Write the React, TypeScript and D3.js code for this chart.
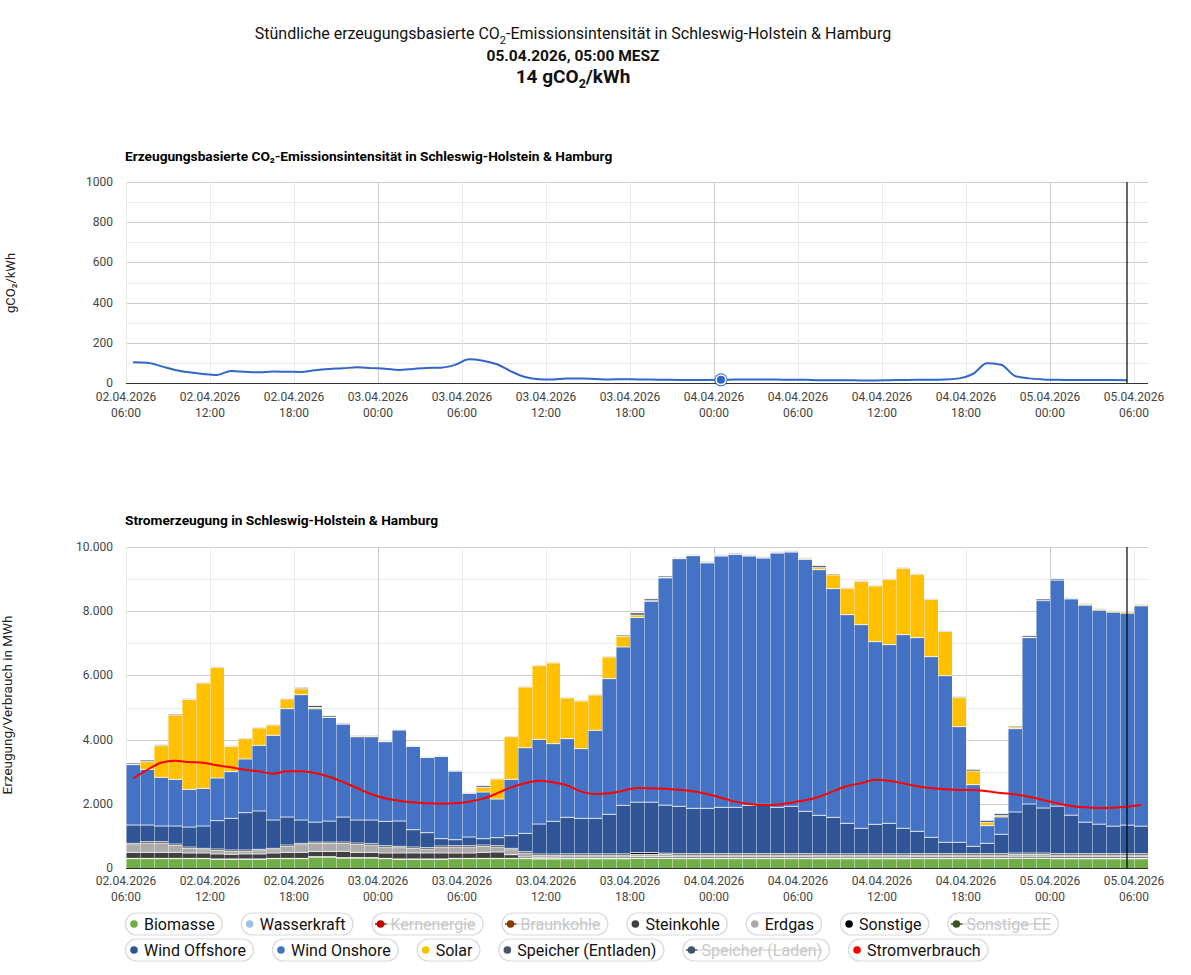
import * as d3 from 'd3';
import { useMemo } from 'react';

// erste Stunde der Darstellung: 02.04.2026 06:00
const START = new Date(2026, 3, 2, 6);
const HOURS = 73;
const CURRENT_HOUR = 71; // 05.04.2026 05:00
const HOVER_HOUR = 42; // markierter Punkt in der oberen Grafik

// gCO2/kWh je Stunde
const co2Intensity = [
  103, 101, 84, 65, 53, 45, 40, 60, 56, 53,
  57, 56, 55, 64, 70, 73, 78, 74, 71, 65,
  70, 75, 76, 90, 118, 111, 93, 58, 30, 19,
  18, 22, 22, 20, 18, 19, 18, 17, 16, 15,
  15, 15, 16, 17, 18, 18, 17, 16, 16, 14,
  14, 14, 13, 13, 14, 15, 16, 16, 17, 23,
  45, 98, 91, 35, 23, 18, 16, 15, 15, 15,
  15, 14,
];

// Erzeugung in MWh je Stunde
const biomasse = [
  290, 290, 290, 290, 290, 290, 270, 270, 270, 270,
  290, 290, 290, 340, 340, 310, 310, 310, 290, 270,
  270, 270, 270, 290, 290, 290, 290, 290, 290, 280,
  280, 285, 285, 285, 285, 285, 300, 300, 300, 290,
  290, 290, 290, 290, 290, 290, 290, 290, 290, 285,
  285, 285, 285, 285, 285, 285, 290, 290, 290, 290,
  290, 290, 290, 300, 300, 300, 285, 285, 285, 285,
  285, 285, 285,
];
const wasserkraft = [
  10, 10, 10, 10, 10, 10, 10, 10, 10, 10,
  10, 10, 10, 10, 10, 10, 10, 10, 10, 10,
  10, 10, 10, 10, 10, 10, 10, 10, 10, 10,
  10, 10, 10, 10, 10, 10, 10, 10, 10, 10,
  10, 10, 10, 10, 10, 10, 10, 10, 10, 10,
  10, 10, 10, 10, 10, 10, 10, 10, 10, 10,
  10, 10, 10, 10, 10, 10, 10, 10, 10, 10,
  10, 10, 10,
];
const steinkohle = [
  187, 187, 187, 187, 166, 166, 156, 146, 156, 156,
  166, 187, 187, 166, 166, 198, 167, 167, 166, 187,
  187, 187, 187, 166, 166, 187, 197, 114, 42, 42,
  45, 45, 45, 45, 45, 45, 50, 50, 50, 45,
  45, 45, 45, 45, 45, 45, 45, 45, 45, 45,
  45, 45, 45, 45, 45, 45, 45, 45, 45, 45,
  45, 45, 45, 55, 55, 55, 50, 50, 50, 50,
  50, 50, 50,
];
const erdgas = [
  239, 291, 291, 218, 145, 104, 114, 93, 83, 104,
  104, 187, 239, 249, 249, 249, 249, 228, 187, 166,
  145, 125, 177, 187, 187, 187, 156, 156, 124, 62,
  60, 60, 60, 60, 60, 60, 60, 60, 60, 60,
  60, 60, 60, 60, 60, 60, 60, 60, 60, 60,
  60, 60, 60, 60, 60, 60, 60, 60, 60, 60,
  60, 60, 60, 60, 60, 60, 60, 60, 60, 60,
  60, 60, 60,
];
const sonstige = [
  41, 41, 41, 41, 41, 41, 41, 41, 41, 41,
  41, 41, 41, 41, 41, 41, 41, 41, 41, 41,
  41, 41, 41, 41, 41, 41, 41, 41, 41, 41,
  40, 40, 40, 40, 40, 40, 60, 60, 40, 40,
  40, 40, 40, 40, 40, 40, 40, 40, 40, 40,
  40, 40, 40, 40, 40, 40, 40, 40, 40, 40,
  40, 40, 40, 40, 40, 40, 40, 40, 40, 40,
  40, 40, 40,
];
const windOffshore = [
  571, 519, 488, 561, 623, 696, 883, 986, 1163, 1194,
  883, 872, 727, 622, 654, 778, 716, 737, 758, 789,
  540, 467, 228, 187, 270, 197, 249, 395, 571, 934,
  1019, 1138, 1107, 1107, 1232, 1512, 1570, 1570, 1497, 1476,
  1413, 1413, 1445, 1445, 1507, 1538, 1445, 1476, 1320, 1200,
  1138, 951, 796, 920, 951, 796, 697, 510, 355, 355,
  230, 324, 604, 1279, 1528, 1403, 1481, 1200, 982, 920,
  858, 889, 858,
];
const windOnshore = [
  1880, 1735, 1517, 1454, 1173, 1174, 1329, 1454, 1672, 2046,
  2638, 3376, 3905, 3532, 3230, 2898, 2596, 2596, 2482, 2835,
  2597, 2347, 2565, 2139, 1361, 1454, 1205, 1755, 2669, 2638,
  2420, 2452, 2171, 2742, 4227, 4933, 5754, 6263, 7083, 7716,
  7872, 7644, 7830, 7882, 7768, 7675, 7923, 7924, 7851, 7654,
  7124, 6501, 6345, 5691, 5567, 6033, 6034, 5629, 5192, 3603,
  1921, 550, 540, 2597, 5183, 6460, 7041, 6740, 6761, 6667,
  6667, 6605, 6864,
];
const solar = [
  15, 239, 986, 2004, 2804, 3281, 3448, 789, 634, 540,
  322, 301, 187, 41, 10, 5, 30, 30, 10, 10,
  5, 5, 5, 5, 0, 145, 623, 1329, 1890, 2295,
  2513, 1266, 1485, 1101, 675, 332, 73, 10, 5, 5,
  5, 20, 5, 5, 5, 5, 5, 5, 31, 62,
  426, 821, 1350, 1734, 2035, 2067, 1973, 1786, 1381, 904,
  426, 104, 42, 52, 10, 0, 0, 5, 30, 30,
  30, 40, 30,
];
const speicherEntladen = [
  40, 51, 31, 30, 20, 20, 20, 20, 20, 20,
  20, 20, 41, 60, 50, 30, 20, 20, 20, 20,
  20, 20, 20, 20, 20, 53, 20, 20, 20, 20,
  20, 20, 20, 20, 20, 40, 72, 62, 50, 30,
  30, 30, 30, 30, 30, 30, 30, 30, 20, 63,
  30, 20, 20, 20, 20, 20, 20, 20, 20, 30,
  52, 62, 62, 31, 51, 52, 41, 31, 20, 20,
  20, 20, 20,
];
// Stromverbrauch in MWh je Stunde
const stromverbrauch = [
  2793, 3053, 3281, 3344, 3302, 3281, 3198, 3136, 3063, 3011,
  2939, 3011, 3011, 2960, 2845, 2679, 2492, 2305, 2170, 2098,
  2046, 2015, 2004, 2015, 2067, 2160, 2326, 2513, 2638, 2721,
  2669, 2576, 2388, 2305, 2326, 2409, 2492, 2482, 2471, 2440,
  2388, 2305, 2191, 2067, 1994, 1963, 1973, 2035, 2108, 2222,
  2388, 2555, 2638, 2752, 2721, 2638, 2544, 2492, 2451, 2430,
  2430, 2388, 2336, 2295, 2222, 2118, 2015, 1931, 1890, 1869,
  1879, 1910, 1963,
];

const stackKeys = [
  'Biomasse', 'Wasserkraft', 'Steinkohle', 'Erdgas', 'Sonstige',
  'Wind Offshore', 'Wind Onshore', 'Solar', 'Speicher (Entladen)',
];
const stackValues = [
  biomasse, wasserkraft, steinkohle, erdgas, sonstige,
  windOffshore, windOnshore, solar, speicherEntladen,
];

const legendRow1 = ['Biomasse', 'Wasserkraft', 'Kernenergie', 'Braunkohle', 'Steinkohle', 'Erdgas', 'Sonstige', 'Sonstige EE'];
const legendRow2 = ['Wind Offshore', 'Wind Onshore', 'Solar', 'Speicher (Entladen)', 'Speicher (Laden)', 'Stromverbrauch'];
const hiddenSeries = ['Kernenergie', 'Braunkohle', 'Sonstige EE', 'Speicher (Laden)'];

const colors: Record<string, string> = {
  Biomasse: '#70ad47',
  Wasserkraft: '#9dc3e6',
  Kernenergie: '#c00000',
  Braunkohle: '#843c0c',
  Steinkohle: '#404040',
  Erdgas: '#aeaaaa',
  Sonstige: '#000000',
  'Sonstige EE': '#375623',
  'Wind Offshore': '#2f5597',
  'Wind Onshore': '#4472c4',
  Solar: '#ffc000',
  'Speicher (Entladen)': '#44546a',
  'Speicher (Laden)': '#44546a',
  Stromverbrauch: '#ff0000',
};

const FONT = 'Roboto, "Noto Sans", sans-serif';
const W = 1191;
const H = 975;
const LEFT = 126;
const RIGHT = 1148;
const TOP1 = 182;
const BOT1 = 383;
const TOP2 = 547;
const BOT2 = 868;

const de = d3.formatLocale({ decimal: ',', thousands: '.', grouping: [3], currency: ['', ' €'] });
const fmtThousands = de.format(',');
const fmtDate = d3.timeFormat('%d.%m.%Y');
const fmtTime = d3.timeFormat('%H:%M');

const hourDates = d3.range(HOURS).map((i) => d3.timeHour.offset(START, i));

function measure(text: string, font: string) {
  const ctx = document.createElement('canvas').getContext('2d');
  if (!ctx) return text.length * 8;
  ctx.font = font;
  return ctx.measureText(text).width;
}

function XAxis({ x, y0, labelY }: { x: d3.ScaleTime<number, number>; y0: number; labelY: number }) {
  const ticks = x.ticks(d3.timeHour.every(6)!);
  return (
    <g>
      {ticks.map((t, i) => (
        <text key={i} x={x(t)} y={labelY} textAnchor='middle' fontSize={12} fill='#444' fontFamily={FONT}>
          <tspan x={x(t)}>{fmtDate(t)}</tspan>
          <tspan x={x(t)} dy={16}>{fmtTime(t)}</tspan>
        </text>
      ))}
      <line x1={LEFT} x2={RIGHT} y1={y0} y2={y0} stroke='#333' strokeWidth={1} />
    </g>
  );
}

function VGrid({ x, top, bottom }: { x: d3.ScaleTime<number, number>; top: number; bottom: number }) {
  const ticks = x.ticks(d3.timeHour.every(6)!);
  return (
    <g>
      {ticks.map((t, i) => (
        <line
          key={i}
          x1={Math.round(x(t)) + 0.5}
          x2={Math.round(x(t)) + 0.5}
          y1={top}
          y2={bottom}
          stroke={t.getHours() === 0 ? '#cccccc' : '#ebebeb'}
        />
      ))}
    </g>
  );
}

function Legend() {
  const font = `16px Roboto`;
  const rows = [legendRow1, legendRow2];
  const rowY = [924, 950];
  return (
    <g fontFamily={FONT}>
      {rows.map((row, r) => {
        let cx = 125;
        return row.map((name) => {
          const tw = measure(name, font);
          const x0 = cx;
          const w = tw + 26;
          cx += w + 19;
          const cy = rowY[r];
          const hidden = hiddenSeries.includes(name);
          return (
            <g key={name}>
              <rect x={x0 + 0.5} y={cy - 11} width={w} height={22} rx={11} fill='#fff' stroke='#d9d9d9' strokeWidth={1.2} />
              <circle cx={x0 + 9} cy={cy} r={3.8} fill={colors[name]} />
              {hidden && <line x1={x0 + 3.5} x2={x0 + 15} y1={cy} y2={cy} stroke={colors[name]} strokeWidth={1.5} />}
              <text x={x0 + 19} y={cy + 5.5} fontSize={16} fill={hidden ? '#c8c8c8' : '#111'}>
                {name}
              </text>
              {hidden && <line x1={x0 + 15} x2={x0 + 19 + tw} y1={cy} y2={cy} stroke='#c8c8c8' strokeWidth={1.2} />}
            </g>
          );
        });
      })}
    </g>
  );
}

export default function App() {
  const x = useMemo(
    () => d3.scaleTime().domain([START, d3.timeHour.offset(START, HOURS)]).range([LEFT, RIGHT]),
    [],
  );
  const y1 = d3.scaleLinear().domain([0, 1000]).range([BOT1, TOP1]);
  const y2 = d3.scaleLinear().domain([0, 10000]).range([BOT2, TOP2]);

  const mid = (i: number) => x(d3.timeMinute.offset(hourDates[i], 30));

  const co2Line = d3
    .line<number>()
    .x((_, i) => mid(i))
    .y((d) => y1(d))
    .curve(d3.curveMonotoneX);

  const loadLine = d3
    .line<number>()
    .x((_, i) => mid(i))
    .y((d) => y2(d))
    .curve(d3.curveMonotoneX);

  const rows = hourDates.map((_, i) => {
    const r: Record<string, number> = {};
    stackKeys.forEach((k, j) => (r[k] = stackValues[j][i]));
    return r;
  });
  const stacked = d3.stack<Record<string, number>>().keys(stackKeys)(rows);

  const nowX = mid(CURRENT_HOUR);

  return (
    <svg width={W} height={H} style={{ position: 'absolute', left: 0, top: 0, background: '#fff' }} fontFamily={FONT}>
      {/* Kopf */}
      <text x={573} y={39} textAnchor='middle' fontSize={16} fill='#111'>
        Stündliche erzeugungsbasierte CO<tspan fontSize={11} dy={5}>2</tspan>
        <tspan dy={-5}>-Emissionsintensität in Schleswig-Holstein &amp; Hamburg</tspan>
      </text>
      <text x={573} y={61} textAnchor='middle' fontSize={15.5} fontWeight='bold' fill='#111'>
        05.04.2026, 05:00 MESZ
      </text>
      <text x={573} y={83} textAnchor='middle' fontSize={19} fontWeight='bold' fill='#111'>
        14 gCO<tspan fontSize={12.5} dy={5}>2</tspan>
        <tspan dy={-5}>/kWh</tspan>
      </text>

      {/* obere Grafik */}
      <text x={125} y={161} fontSize={13.7} fontWeight='bold' fill='#000'>
        Erzeugungsbasierte CO₂-Emissionsintensität in Schleswig-Holstein &amp; Hamburg
      </text>
      <text transform={`translate(15,283) rotate(-90)`} textAnchor='middle' fontSize={13} fill='#222'>
        gCO₂/kWh
      </text>
      {d3.range(0, 1001, 100).map((v) => (
        <line
          key={v}
          x1={LEFT}
          x2={RIGHT}
          y1={Math.round(y1(v)) + 0.5}
          y2={Math.round(y1(v)) + 0.5}
          stroke={v % 200 === 0 ? '#cccccc' : '#ebebeb'}
        />
      ))}
      <VGrid x={x} top={TOP1} bottom={BOT1} />
      {d3.range(0, 1001, 200).map((v) => (
        <text key={v} x={113} y={y1(v) + 4} textAnchor='end' fontSize={12} fill='#444'>
          {v}
        </text>
      ))}
      <XAxis x={x} y0={BOT1 + 0.5} labelY={401} />
      <path d={co2Line(co2Intensity) ?? ''} fill='none' stroke='#3366cc' strokeWidth={2} />
      <circle cx={mid(HOVER_HOUR)} cy={y1(co2Intensity[HOVER_HOUR])} r={6.5} fill='#3366cc' />
      <circle cx={mid(HOVER_HOUR)} cy={y1(co2Intensity[HOVER_HOUR])} r={4.8} fill='#3366cc' stroke='#fff' strokeWidth={1.5} />
      <line x1={nowX} x2={nowX} y1={TOP1} y2={BOT1} stroke='#000' strokeWidth={1.2} />

      {/* untere Grafik */}
      <text x={125} y={525} fontSize={13.7} fontWeight='bold' fill='#000'>
        Stromerzeugung in Schleswig-Holstein &amp; Hamburg
      </text>
      <text transform={`translate(12,705) rotate(-90)`} textAnchor='middle' fontSize={13.5} fill='#222'>
        Erzeugung/Verbrauch in MWh
      </text>
      {d3.range(0, 10001, 1000).map((v) => (
        <line
          key={v}
          x1={LEFT}
          x2={RIGHT}
          y1={Math.round(y2(v)) + 0.5}
          y2={Math.round(y2(v)) + 0.5}
          stroke={v % 2000 === 0 ? '#cccccc' : '#ebebeb'}
        />
      ))}
      <VGrid x={x} top={TOP2} bottom={BOT2} />
      {d3.range(0, 10001, 2000).map((v) => (
        <text key={v} x={113} y={y2(v) + 4} textAnchor='end' fontSize={12} fill='#444'>
          {fmtThousands(v)}
        </text>
      ))}
      <g>
        {stacked.map((layer) => (
          <g key={layer.key} fill={colors[layer.key]}>
            {layer.map((d, i) => {
              const x0 = x(hourDates[i]);
              const x1 = x(d3.timeHour.offset(hourDates[i], 1));
              const yTop = y2(d[1]);
              const yBot = y2(d[0]);
              return <rect key={i} x={x0} y={yTop} width={x1 - x0} height={Math.max(0, yBot - yTop)} />;
            })}
          </g>
        ))}
        {/* weiße Trennlinien */}
        {stacked.map((layer) =>
          layer.map((d, i) => {
            if (d[1] - d[0] <= 0) return null;
            const x0 = x(hourDates[i]);
            const x1 = x(d3.timeHour.offset(hourDates[i], 1));
            return (
              <line key={layer.key + i} x1={x0} x2={x1} y1={y2(d[1])} y2={y2(d[1])} stroke='#fff' strokeWidth={0.8} />
            );
          }),
        )}
        {hourDates.map((t, i) => {
          const top = stacked[stacked.length - 1][i][1];
          const xx = x(t) + 0.5;
          return <line key={i} x1={xx} x2={xx} y1={y2(top)} y2={BOT2} stroke='#fff' strokeOpacity={0.45} strokeWidth={1} />;
        })}
      </g>
      <XAxis x={x} y0={BOT2 + 0.5} labelY={885} />
      <path d={loadLine(stromverbrauch) ?? ''} fill='none' stroke={colors.Stromverbrauch} strokeWidth={2} />
      <line x1={nowX} x2={nowX} y1={TOP2} y2={BOT2} stroke='#000' strokeWidth={1.2} />

      <Legend />
    </svg>
  );
}
